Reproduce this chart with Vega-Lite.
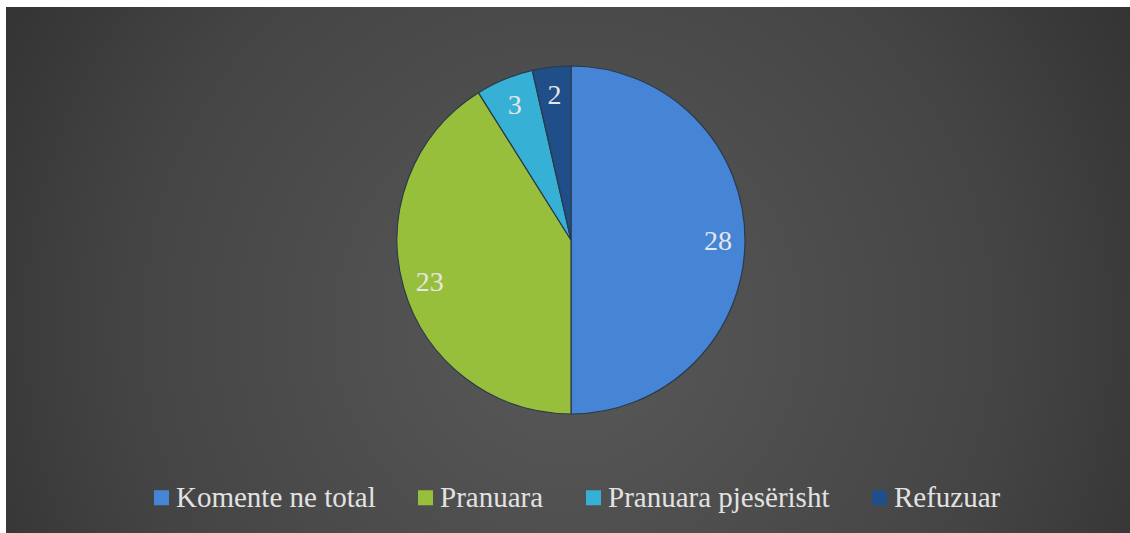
{
  "$schema": "https://vega.github.io/schema/vega-lite/v6.json",
  "width": 1124,
  "height": 526,
  "padding": {"left": 6, "top": 7, "right": 0, "bottom": 0},
  "autosize": {"type": "none"},
  "background": "#ffffff",
  "view": {
    "stroke": null,
    "fill": {
      "gradient": "radial",
      "x1": 0.5, "y1": 0.55, "r1": 0,
      "x2": 0.5, "y2": 0.55, "r2": 0.72,
      "stops": [
        {"offset": 0, "color": "#595959"},
        {"offset": 0.55, "color": "#444444"},
        {"offset": 1, "color": "#262626"}
      ]
    }
  },
  "config": {
    "font": "Liberation Serif, serif",
    "text": {"font": "Liberation Serif, serif"},
    "legend": {"labelFont": "Liberation Serif, serif"}
  },
  "data": {
    "values": [
      {"category": "Komente ne total", "value": 28},
      {"category": "Pranuara", "value": 23},
      {"category": "Pranuara pjesërisht", "value": 3},
      {"category": "Refuzuar", "value": 2}
    ]
  },
  "encoding": {
    "theta": {"field": "value", "type": "quantitative", "stack": true},
    "order": {"field": "value", "type": "quantitative", "sort": "descending"}
  },
  "layer": [
    {
      "mark": {"type": "arc", "outerRadius": 174, "xOffset": 3, "yOffset": -30, "stroke": "#2a3a4a", "strokeWidth": 1.2},
      "encoding": {
        "color": {
          "field": "category",
          "type": "nominal",
          "sort": ["Komente ne total", "Pranuara", "Pranuara pjesërisht", "Refuzuar"],
          "scale": {
            "domain": ["Komente ne total", "Pranuara", "Pranuara pjesërisht", "Refuzuar"],
            "range": ["#4684d6", "#98bf3c", "#36b0d4", "#1f4e88"]
          },
          "legend": {
            "title": null,
            "orient": "none",
            "direction": "horizontal",
            "columns": 4,
            "legendX": 141,
            "legendY": 476,
            "symbolType": "square",
            "symbolSize": 225,
            "symbolStrokeWidth": 0,
            "labelFont": "Liberation Serif, serif",
            "labelFontSize": 29,
            "labelColor": "#e2e2e2",
            "labelOffset": 0,
            "labelLimit": 400,
            "columnPadding": 35
          }
        }
      }
    },
    {
      "mark": {"type": "text", "radius": 147, "xOffset": 3, "yOffset": -28, "font": "Liberation Serif, serif", "fontSize": 28, "fill": "#e6e6e6"},
      "encoding": {
        "text": {"field": "value", "type": "quantitative"}
      }
    }
  ]
}
